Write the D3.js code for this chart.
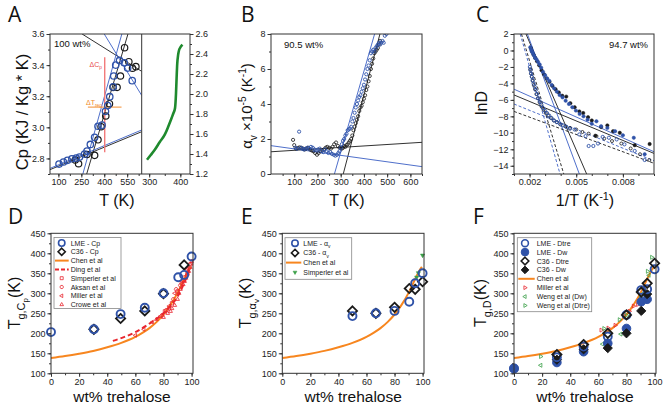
<!DOCTYPE html>
<html><head><meta charset="utf-8">
<script src="https://cdn.jsdelivr.net/npm/d3@7"></script>
<style>body{margin:0;background:#fff;}</style></head>
<body><svg id="c" width="666" height="414"></svg>
<script>
// ---------------- DATA ----------------
// Panel A (100 wt%)
const aTicksX=[100,250,400,550];
const aTicksY=[2.8,3.0,3.2,3.4,3.6];
const aInsetTicksX=[300,400];
const aInsetTicksY=[1.2,1.4,1.6,1.8,2.0,2.2,2.4,2.6];
const aLmeT =[104,133,159,188,216,238,271,287,309,337,359,386,408,423,436,458,462,475,500,531,553,583];
const aLmeCp=[2.764,2.777,2.788,2.798,2.802,2.809,2.828,2.847,2.890,2.936,3.007,3.014,3.103,3.14,3.197,3.26,3.33,3.40,3.43,3.415,3.381,3.30];
const aC36T =[210,232,287,337,359,379,410,434,458,484,506,533,561,585,607];
const aC36Cp=[2.79,2.766,2.825,2.82,2.92,3.004,3.073,3.152,3.257,3.257,3.33,3.512,3.422,3.38,3.39];
const aFitBlue =[[[45,2.736],[645,2.983]],[[260,2.7],[515,3.6]],[[400,3.6],[645,3.205]]];
const aFitBlack=[[[45,2.728],[645,2.972]],[[285,2.7],[555,3.6]],[[255,3.6],[645,3.36]]];
const aDeltaCp=[[403,2.84],[403,3.45]];
const aDeltaT=[[293,3.13],[513,3.13]];
const aInsetT=[293,305,318,334,350,362,372,378,383,386,388,390,393,396,399,403,407];
const aInsetV=[1.343,1.39,1.443,1.52,1.593,1.68,1.76,1.81,1.86,2.0,2.16,2.3,2.393,2.44,2.46,2.48,2.493];

// Panel B (90.5 wt%)
const bTicksX=[100,200,300,400,500,600];
const bTicksY=[0,2,4,6,8];
const bLmeT=[105,112,121,128,135,142,150,157,165,172,180,187,195,202,210,217,225,232,240,247,255,262,270,277,284,290,
  295,300,305,310,315,320,325,330,335,340,345,350,355,360,365,370,375,380,385,390,395,400,405,410,415,420,425,430,435,440,445,450,455,460,465,470,475,480,485,490,497];
const bLmeA=[1.5,1.45,2.42,1.5,1.45,1.4,1.45,1.5,1.45,1.55,1.5,1.4,1.35,1.4,1.45,1.3,1.25,1.4,1.3,1.2,1.25,1.15,1.1,1.05,1.1,1.2,
  1.3,1.5,1.7,1.9,2.0,2.2,2.3,2.5,2.55,2.6,2.7,3.0,3.2,3.5,3.8,4.0,4.2,4.4,4.5,4.7,4.9,5.1,5.4,5.7,6.0,6.2,6.5,6.9,7.0,7.1,7.0,7.2,7.3,7.4,7.5,7.4,7.5,7.6,7.5,7.9,8.0];
const bC36T=[95,100,108,115,122,130,138,145,152,160,168,175,182,190,198,205,212,220,228,235,242,250,258,265,272,280,288,295,
  300,305,310,315,320,325,330,335,340,345,350,355,360,365,370,375,380,385,390,395,400,405,410,415,420,425,430,435,440,445,450,455,460,465,470];
const bC36A=[1.95,1.65,1.45,1.48,1.52,1.5,1.45,1.4,1.45,1.5,1.4,1.35,1.3,1.2,1.1,1.2,1.3,1.35,1.4,1.5,1.55,1.5,1.45,1.55,1.7,1.8,1.6,1.5,
  1.5,1.45,1.5,1.6,1.55,1.65,1.7,1.8,1.9,2.0,2.2,2.5,2.7,2.9,3.1,3.3,3.6,3.8,3.9,4.1,4.3,4.5,4.8,5.0,5.3,5.6,6.0,6.3,6.6,6.9,7.0,7.1,7.2,7.4,7.6];
const bFitBlue =[[[0,1.62],[650,0.42]],[[273,0],[446,8]]];
const bFitBlack=[[[0,1.27],[650,1.81]],[[311,0],[469,8]]];

// Panel C (94.7 wt%)
const cTicksX=[0.002,0.005,0.008];
const cTicksY=[2,0,-2,-4,-6,-8,-10,-12,-14];
const cLmeDwX=[0.00205,0.0021,0.00215,0.0022,0.00228,0.00236,0.00245,0.00255,0.00265,0.00275,0.00287,0.003,0.00313,0.00327,0.00342,0.00358,0.00375,0.00393,0.00412,0.00432,0.00453,0.00475,0.00498,0.00522,0.00547,0.00573,0.006,0.0063,0.0066,0.007,0.0075,0.008,0.0087,0.0094];
const cLmeDwY=[0.4,0.1,-0.1,-0.3,-0.6,-0.9,-1.1,-1.4,-1.7,-2.1,-2.6,-3.0,-3.4,-3.7,-4.2,-4.6,-5.0,-5.4,-5.7,-6.1,-6.5,-6.9,-7.3,-7.7,-8.0,-8.4,-8.9,-8.6,-9.2,-9.4,-9.8,-10.3,-10.6,-12.6];
const cC36DwX=[0.00208,0.00215,0.00225,0.00236,0.00248,0.00262,0.00277,0.00293,0.0031,0.00328,0.00347,0.00367,0.00388,0.0041,0.00436,0.00462,0.0049,0.0052,0.00545,0.00576,0.006,0.00623,0.0066,0.007,0.00737,0.0078,0.00876,0.00972];
const cC36DwY=[0.3,-0.1,-0.5,-0.9,-1.3,-1.8,-2.4,-2.9,-3.4,-3.8,-4.3,-4.7,-5.1,-5.5,-5.6,-6.4,-6.9,-7.4,-7.6,-8.1,-8.5,-10.35,-9.3,-9.1,-9.8,-10.0,-11.5,-11.36];
const cLmeDtreX=[0.00202,0.00206,0.0021,0.00215,0.0022,0.00226,0.00233,0.0024,0.00248,0.00257,0.00266,0.00276,0.00287,0.00299,0.00312,0.00326,0.00341,0.00357,0.00375,0.00394,0.00415,0.00437,0.0046,0.0049,0.0052,0.0056,0.0058,0.0061,0.0064,0.0067,0.0071,0.0076,0.0081,0.00876,0.0094];
const cLmeDtreY=[-2.0,-2.4,-2.8,-3.2,-3.6,-4.0,-4.4,-4.8,-5.3,-5.8,-6.2,-6.6,-7.0,-7.3,-7.6,-7.9,-8.2,-8.5,-8.7,-8.9,-9.1,-9.3,-9.5,-9.6,-10.2,-10.4,-11.6,-11.6,-11.3,-10.5,-10.6,-10.8,-11.4,-12.2,-13.3];
const cC36DtreX=[0.00204,0.00209,0.00214,0.0022,0.00227,0.00235,0.00244,0.00254,0.00265,0.00277,0.0029,0.00304,0.0032,0.00337,0.00356,0.00376,0.004,0.0043,0.0046,0.005,0.0054,0.0058,0.0063,0.0068,0.0073,0.0079,0.0085,0.0091,0.0097];
const cC36DtreY=[-2.3,-2.8,-3.2,-3.7,-4.2,-4.7,-5.3,-5.8,-6.3,-6.8,-7.2,-7.6,-7.9,-8.2,-8.5,-8.7,-9.0,-9.2,-9.4,-9.6,-9.9,-10.1,-10.4,-10.7,-11.0,-11.3,-11.9,-12.6,-13.3];
const cSolidBlue =[[[0.00186,2],[0.0052,-15]],[[0.001,-4.7],[0.010,-12.3]]];
const cSolidBlack=[[[0.00177,2],[0.00567,-15]],[[0.001,-5.4],[0.010,-12.5]]];
const cDashBlue  =[[[0.0014,2],[0.00396,-15]],[[0.001,-6.5],[0.010,-13.4]]];
const cDashBlack =[[[0.00148,2],[0.0042,-15]],[[0.001,-7.4],[0.010,-13.7]]];

// Bottom row shared
const wtTicks=[0,20,40,60,80,100];
const tgTicks=[100,150,200,250,300,350,400,450];
const chenX=[0,10,20,30,40,50,60,65,70,75,80,85,90,93,96,98,99.5];
const chenY=[138,143,149,156,165,176,191,201,213,228,247,271,301,323,345,358,366];

// Panel D
const dLmeX=[0,30.5,49.5,66.7,80,90.5,94.7,100];
const dLmeY=[203,210,248,264,300,340,346,392];
const dC36X=[30.5,49.5,66.7,80,94.7];
const dC36Y=[210,237,256,299,371];
const dingX=[44,50,60,70,80,85,90,94,97,99];
const dingY=[181,188,203,224,250,268,292,320,345,365];
const simperlerDX=[81,86,90,93,97,99];
const simperlerDY=[255,275,305,325,350,372];
const aksanX=[79,82,84,87,89,92,95,98];
const aksanY=[245,258,262,285,310,320,340,362];
const millerDX=[60,66,72,78,84,88,93,97,100];
const millerDY=[195,210,228,243,268,300,330,360,375];
const croweX=[75,80,83,85,86,88,90,91,92,94,95,96,97,98,99,100];
const croweY=[235,240,250,255,262,270,285,300,310,322,330,338,348,355,365,380];

// Panel E
const eLmeX=[50,66.7,80,90.5,94.7,100];
const eLmeY=[243,250,256,279,325,350];
const eC36X=[50,66.7,80,90.5,94.7,100];
const eC36Y=[256,250,265,312,310,329];
const eSimpX=[95.8,97,100];
const eSimpY=[340,351,395];

// Panel F
const fLmeDtreX=[0,30.5,49.5,66.7,80,90.5,94.7,100];
const fLmeDtreY=[112,140,167,192,246,308,310,360];
const fLmeDwX=[0,30.5,49.5,66.7,80,90.5,94.7];
const fLmeDwY=[112,127,154,175,212,279,285];
const fC36DtreX=[30.5,49.5,66.7,80,90.5,94.7,100];
const fC36DtreY=[147,172,200,246,303,325,375];
const fC36DwX=[30.5,49.5,66.7,80,90.5,94.7];
const fC36DwY=[134,160,163,200,256,298];
const fMillerX=[62,67,72,78,82,85,88];
const fMillerY=[208,213,220,245,255,268,272];
const fWengDwX=[0,19,63,76,92,96];
const fWengDwY=[112,120,173,198,300,345];
const fWengDtreX=[19,64,75,80,90,95,98];
const fWengDtreY=[142,212,234,245,290,355,390];

// ---------------- DRAWING ----------------
const BLUE='#2f52a8', BLUEL='#3b5fc4', BLACK='#1a1a1a', ORANGE='#f7861f', RED='#e8262e', GREEND='#1f8a2e', GREEN='#3aa047';
const FONT='"Liberation Sans", Arial, sans-serif';
const svg=d3.select('#c').attr('font-family',FONT);
let clipN=0;
function makePanel(x0,x1,y0,y1,xd,yd){
  const x=d3.scaleLinear().domain(xd).range([x0,x1]);
  const y=d3.scaleLinear().domain(yd).range([y1,y0]);
  const id='cl'+(clipN++);
  svg.append('clipPath').attr('id',id).append('rect').attr('x',x0).attr('y',y0).attr('width',x1-x0).attr('height',y1-y0);
  const g=svg.append('g').attr('clip-path',`url(#${id})`);
  const gu=svg.append('g');
  return {x,y,g,gu,x0,x1,y0,y1};
}
function frame(p){svg.append('rect').attr('x',p.x0).attr('y',p.y0).attr('width',p.x1-p.x0).attr('height',p.y1-p.y0).attr('fill','none').attr('stroke','#333').attr('stroke-width',1);}
function st(s){s.select('.domain').remove();s.selectAll('line').attr('stroke','#333');s.selectAll('text').attr('font-size',9).attr('fill','#222').attr('font-family',FONT);}
function axis(gen,scale,pos,horiz,major,minor,fmt){
  const tr=horiz?`translate(0,${pos})`:`translate(${pos},0)`;
  svg.append('g').attr('transform',tr).call(gen(scale).tickValues(minor).tickSize(2).tickFormat('')).call(st).call(s=>s.selectAll('text').remove());
  svg.append('g').attr('transform',tr).call(gen(scale).tickValues(major).tickSize(3.5).tickPadding(horiz?1.5:2).tickFormat(fmt)).call(st);
}
function lineGen(p){return d3.line().x(d=>p.x(d[0])).y(d=>p.y(d[1]));}
function drawSegs(p,segs,color,w,dash){
  segs.forEach(s=>p.g.append('path').attr('d',lineGen(p)(s)).attr('fill','none').attr('stroke',color).attr('stroke-width',w).attr('stroke-dasharray',dash||null));
}
function shapePath(t,r){
  const a=r*0.866,b=r*0.5;
  switch(t){
    case 'diamond':return `M0,${-r}L${r},0L0,${r}L${-r},0Z`;
    case 'square':return `M${-r},${-r}H${r}V${r}H${-r}Z`;
    case 'up':return `M0,${-r}L${a},${b}L${-a},${b}Z`;
    case 'down':return `M0,${r}L${a},${-b}L${-a},${-b}Z`;
    case 'left':return `M${-r},0L${b},${-a}L${b},${a}Z`;
    case 'right':return `M${r},0L${-b},${-a}L${-b},${a}Z`;
    case 'hex':return `M${r},0L${b},${a}L${-b},${a}L${-r},0L${-b},${-a}L${b},${-a}Z`;
  }
}
function mark(g,px,py,t,r,stroke,fill,sw){
  if(t==='circle') g.append('circle').attr('cx',px).attr('cy',py).attr('r',r).attr('fill',fill).attr('stroke',stroke).attr('stroke-width',sw);
  else g.append('path').attr('transform',`translate(${px},${py})`).attr('d',shapePath(t,r)).attr('fill',fill).attr('stroke',stroke).attr('stroke-width',sw);
}
function marks(p,g,xs,ys,t,r,stroke,fill,sw){xs.forEach((v,i)=>mark(g,p.x(v),p.y(ys[i]),t,r,stroke,fill,sw));}
function rich(g,x,y,parts,size,opts){
  opts=opts||{};
  const t=g.append('text').attr('x',x).attr('y',y).attr('font-size',size).attr('fill',opts.fill||'#111').attr('text-anchor',opts.anchor||'start');
  if(opts.rotate) t.attr('transform',`rotate(-90,${x},${y})`);
  let cur=0;
  parts.forEach(pt=>{
    const lvl=pt.s==='sub'?size*0.3:pt.s==='subsub'?size*0.5:pt.s==='sup'?-size*0.4:0;
    const fs=pt.s==='sub'||pt.s==='sup'?size*0.68:pt.s==='subsub'?size*0.5:size;
    t.append('tspan').attr('dy',lvl-cur).attr('font-size',fs).text(pt.t);
    cur=lvl;
  });
  return t;
}
function letter(x,y,s){svg.append('text').attr('x',x).attr('y',y).attr('font-family','"Open Sans",sans-serif').attr('font-size',21).attr('fill','#111').text(s);}
const fmt1=d3.format('.1f');

// ---- Panel A ----
const A=makePanel(50,141.7,34,174,[45,645],[2.7,3.6]);
drawSegs(A,aFitBlack,BLACK,0.9);
drawSegs(A,aFitBlue,BLUEL,0.9);
A.g.append('path').attr('d',lineGen(A)(aDeltaCp)).attr('stroke','#f27a7a').attr('stroke-width',1.4);
A.g.append('path').attr('d',lineGen(A)(aDeltaT)).attr('stroke','#f6a45a').attr('stroke-width',1.4);
marks(A,A.g,aC36T,aC36Cp,'circle',3.2,BLACK,'none',1.2);
marks(A,A.g,aLmeT,aLmeCp,'circle',3.2,BLUE,'none',1.3);
rich(svg,102,67,[{t:'ΔC'},{t:'p',s:'sub'}],7,{fill:'#e84a4a',anchor:'end'});
rich(svg,86,105,[{t:'ΔT'},{t:'reg',s:'sub'}],7,{fill:'#f08a2a'});
svg.append('text').attr('x',54).attr('y',47).attr('font-size',9.5).attr('fill','#111').text('100 wt%');
axis(d3.axisBottom,A.x,174,true,aTicksX,d3.range(25,646,75).filter(v=>v>=45),d3.format('d'));
axis(d3.axisLeft,A.y,50,false,aTicksY,d3.range(2.7,3.61,0.1),fmt1);
const AI=makePanel(141.7,190,34,174,[276,431],[1.2,2.6]);
AI.g.append('path').attr('d',d3.line().x(d=>AI.x(d[0])).y(d=>AI.y(d[1])).curve(d3.curveMonotoneX)(aInsetT.map((t,i)=>[t,aInsetV[i]]))).attr('fill','none').attr('stroke',GREEND).attr('stroke-width',2.6);
axis(d3.axisBottom,AI.x,174,true,aInsetTicksX,[300,350,400],d3.format('d'));
axis(d3.axisRight,AI.y,190,false,aInsetTicksY,d3.range(1.2,2.61,0.1),fmt1);
frame({x0:50,x1:190,y0:34,y1:174});
svg.append('line').attr('x1',141.7).attr('x2',141.7).attr('y1',34).attr('y2',174).attr('stroke','#333');
rich(svg,28,112,[{t:'Cp (KJ / Kg * K)'}],16.5,{rotate:true,anchor:'middle'});
svg.append('text').attr('x',117).attr('y',206).attr('font-size',16).attr('text-anchor','middle').attr('fill','#111').text('T (K)');
letter(8,22,'A');

// ---- Panel B ----
const B=makePanel(271,422,34,174,[0,650],[0,8]);
drawSegs(B,bFitBlack,BLACK,0.9);
drawSegs(B,bFitBlue,BLUEL,0.9);
marks(B,B.g,bC36T,bC36A,'circle',1.6,BLACK,'none',0.8);
marks(B,B.g,bLmeT,bLmeA,'circle',1.6,BLUE,'none',0.9);
svg.append('text').attr('x',284).attr('y',48).attr('font-size',9.5).attr('fill','#111').text('90.5 wt%');
axis(d3.axisBottom,B.x,174,true,bTicksX,d3.range(50,651,50),d3.format('d'));
axis(d3.axisLeft,B.y,271,false,bTicksY,d3.range(0,8.01,1),d3.format('d'));
frame(B);
rich(svg,252,106,[{t:'α'},{t:'v',s:'sub'},{t:' ×10'},{t:'-5',s:'sup'},{t:' (K'},{t:'-1',s:'sup'},{t:')'}],15,{rotate:true,anchor:'middle'});
svg.append('text').attr('x',347).attr('y',206).attr('font-size',16).attr('text-anchor','middle').attr('fill','#111').text('T (K)');
letter(241,22,'B');

// ---- Panel C ----
const C=makePanel(514,654,34,174,[0.001,0.010],[-15,2]);
drawSegs(C,cSolidBlack,BLACK,0.9);
drawSegs(C,cSolidBlue,BLUEL,0.9);
drawSegs(C,cDashBlack,BLACK,0.9,'3,2');
drawSegs(C,cDashBlue,BLUEL,0.9,'3,2');
marks(C,C.g,cC36DtreX,cC36DtreY,'circle',1.5,BLACK,'none',0.8);
marks(C,C.g,cLmeDtreX,cLmeDtreY,'circle',1.6,BLUE,'none',0.9);
marks(C,C.g,cC36DwX,cC36DwY,'circle',1.7,BLACK,BLACK,0.5);
marks(C,C.g,cLmeDwX,cLmeDwY,'circle',1.7,BLUE,BLUE,0.5);
svg.append('text').attr('x',648).attr('y',48).attr('font-size',9.5).attr('text-anchor','end').attr('fill','#111').text('94.7 wt%');
axis(d3.axisBottom,C.x,174,true,cTicksX,d3.range(0.001,0.01001,0.001),d3.format('.3f'));
axis(d3.axisLeft,C.y,514,false,cTicksY,d3.range(-15,2.01,1),d3.format('d'));
frame(C);
rich(svg,487,103,[{t:'lnD'}],16,{rotate:true,anchor:'middle'});
rich(svg,585,206,[{t:'1/T (K'},{t:'-1',s:'sup'},{t:')'}],16,{anchor:'middle'});
letter(476,22,'C');

// ---- Bottom row helper ----
function bottomAxes(p){
  axis(d3.axisBottom,p.x,p.y1,true,wtTicks,d3.range(0,101,10),d3.format('d'));
  axis(d3.axisLeft,p.y,p.x0,false,tgTicks,d3.range(100,451,25),d3.format('d'));
  frame(p);
  svg.append('text').attr('x',(p.x0+p.x1)/2).attr('y',402).attr('font-size',15.5).attr('text-anchor','middle').attr('fill','#111').text('wt% trehalose');
}
function chenLine(p){
  p.g.append('path').attr('d',d3.line().x(d=>p.x(d[0])).y(d=>p.y(d[1])).curve(d3.curveMonotoneX)(chenX.map((v,i)=>[v,chenY[i]]))).attr('fill','none').attr('stroke',ORANGE).attr('stroke-width',2);
}
function legend(x0,y0,w,h,mx,tx,dy,items){
  const g=svg.append('g');
  g.append('rect').attr('x',x0).attr('y',y0).attr('width',w).attr('height',h).attr('fill','#fff').attr('stroke','#888').attr('stroke-width',0.8);
  items.forEach((it,i)=>{
    const y=y0+5.5+i*dy;
    if(it.line) g.append('line').attr('x1',x0+1).attr('x2',tx-2).attr('y1',y).attr('y2',y).attr('stroke',it.stroke).attr('stroke-width',2).attr('stroke-dasharray',it.dash||null);
    else mark(g,mx,y,it.t,it.r,it.stroke,it.fill,it.sw);
    rich(g,tx,y+2.5,it.label,7,{fill:'#222'});
  });
}

// ---- Panel D ----
const D=makePanel(51,193,233.3,373.3,[0,101],[100,450]);
chenLine(D);
D.g.append('path').attr('d',d3.line().x(d=>D.x(d[0])).y(d=>D.y(d[1])).curve(d3.curveMonotoneX)(dingX.map((v,i)=>[v,dingY[i]]))).attr('fill','none').attr('stroke',RED).attr('stroke-width',2).attr('stroke-dasharray','5,3');
marks(D,D.gu,simperlerDX,simperlerDY,'square',1.6,RED,'none',0.8);
marks(D,D.gu,aksanX,aksanY,'hex',1.9,RED,'none',0.8);
marks(D,D.gu,millerDX,millerDY,'left',2.2,RED,'none',0.8);
marks(D,D.gu,croweX,croweY,'up',2.2,RED,'none',0.8);
marks(D,D.gu,dC36X,dC36Y,'diamond',4.6,BLACK,'none',1.8);
marks(D,D.gu,dLmeX,dLmeY,'circle',4.0,BLUE,'none',1.9);
bottomAxes(D);
legend(54,237.5,67,71,61.7,70.7,8.8,[
  {t:'circle',r:3.2,stroke:BLUE,fill:'none',sw:1.6,label:[{t:'LME - Cp'}]},
  {t:'diamond',r:3.6,stroke:BLACK,fill:'none',sw:1.6,label:[{t:'C36 - Cp'}]},
  {line:true,stroke:ORANGE,label:[{t:'Chen et al'}]},
  {line:true,stroke:RED,dash:'4,2',label:[{t:'Ding et al'}]},
  {t:'square',r:1.5,stroke:RED,fill:'none',sw:0.8,label:[{t:'Simperler et al'}]},
  {t:'hex',r:1.8,stroke:RED,fill:'none',sw:0.8,label:[{t:'Aksan et al'}]},
  {t:'left',r:2.1,stroke:RED,fill:'none',sw:0.8,label:[{t:'Miller et al'}]},
  {t:'up',r:2.1,stroke:RED,fill:'none',sw:0.8,label:[{t:'Crowe et al'}]}
]);
rich(svg,20,303,[{t:'T'},{t:'g,C',s:'sub'},{t:'p',s:'subsub'},{t:'(K)'}],16,{rotate:true,anchor:'middle'});
letter(8,224,'D');

// ---- Panel E ----
const E=makePanel(282.3,424,233.3,373.3,[0,101],[100,450]);
chenLine(E);
marks(E,E.gu,eSimpX,eSimpY,'down',2.4,GREEN,GREEN,0.6);
marks(E,E.gu,eC36X,eC36Y,'diamond',4.6,BLACK,'none',1.8);
marks(E,E.gu,eLmeX,eLmeY,'circle',4.0,BLUE,'none',1.9);
bottomAxes(E);
legend(285,237.7,66.7,41.6,295,303.3,9.7,[
  {t:'circle',r:3.2,stroke:BLUE,fill:'none',sw:1.6,label:[{t:'LME - α'},{t:'v',s:'sub'}]},
  {t:'diamond',r:3.6,stroke:BLACK,fill:'none',sw:1.6,label:[{t:'C36 - α'},{t:'v',s:'sub'}]},
  {line:true,stroke:ORANGE,label:[{t:'Chen et al'}]},
  {t:'down',r:2.2,stroke:GREEN,fill:GREEN,sw:0.6,label:[{t:'Simperler et al'}]}
]);
rich(svg,251,303,[{t:'T'},{t:'g,α',s:'sub'},{t:'v',s:'subsub'},{t:'(K)'}],16,{rotate:true,anchor:'middle'});
letter(241,224,'E');

// ---- Panel F ----
const F=makePanel(514,656,233.3,373.3,[0,101],[100,450]);
chenLine(F);
marks(F,F.gu,fMillerX,fMillerY,'right',2.3,RED,'none',0.8);
marks(F,F.gu,fWengDwX,fWengDwY,'left',2.3,GREEN,'none',0.8);
marks(F,F.gu,fWengDtreX,fWengDtreY,'right',2.3,GREEN,'none',0.8);
marks(F,F.gu,fLmeDwX,fLmeDwY,'circle',4.3,BLUE,BLUE,1);
marks(F,F.gu,fC36DwX,fC36DwY,'diamond',4.6,BLACK,BLACK,1);
marks(F,F.gu,fLmeDtreX,fLmeDtreY,'circle',4.0,BLUE,'none',1.9);
marks(F,F.gu,fC36DtreX,fC36DtreY,'diamond',4.6,BLACK,'none',1.8);
bottomAxes(F);
legend(517.3,237.7,74.4,74,525,536.7,8.9,[
  {t:'circle',r:3.4,stroke:BLUE,fill:'none',sw:1.6,label:[{t:'LME - Dtre'}]},
  {t:'circle',r:3.8,stroke:BLUE,fill:BLUE,sw:1,label:[{t:'LME - Dw'}]},
  {t:'diamond',r:3.8,stroke:BLACK,fill:'none',sw:1.6,label:[{t:'C36 - Dtre'}]},
  {t:'diamond',r:3.8,stroke:BLACK,fill:BLACK,sw:1,label:[{t:'C36 - Dw'}]},
  {line:true,stroke:ORANGE,label:[{t:'Chen et al'}]},
  {t:'right',r:2.2,stroke:RED,fill:'none',sw:0.8,label:[{t:'Miller et al'}]},
  {t:'left',r:2.2,stroke:GREEN,fill:'none',sw:0.8,label:[{t:'Weng et al (Dw)'}]},
  {t:'right',r:2.2,stroke:GREEN,fill:'none',sw:0.8,label:[{t:'Weng et al (Dtre)'}]}
]);
rich(svg,486,303,[{t:'T'},{t:'g,D',s:'sub'},{t:'(K)'}],16,{rotate:true,anchor:'middle'});
letter(473,224,'F');
</script></body></html>
